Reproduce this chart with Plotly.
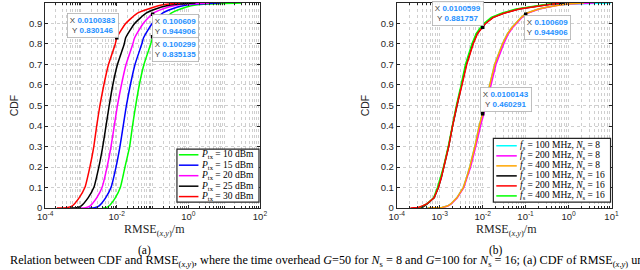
import numpy as np
import plotly.graph_objects as go

W, H = 640, 270

# ---------------- Panel (a): CDF vs RMSE for several P_tx ----------------
cdf_a = [0.0, 0.002, 0.01, 0.05, 0.1, 0.2, 0.3, 0.4, 0.5, 0.6, 0.7, 0.8, 0.83,
         0.9, 0.95, 0.98, 0.99, 0.995, 1.0]
# log10(RMSE/m)
ptx10_log = [-2.40, -2.30, -2.22, -2.04, -1.90, -1.77, -1.64, -1.56, -1.47, -1.37, -1.24,
             -1.05, -1.00, -0.76, -0.48, -0.05, 0.20, 0.55, 1.50]
ptx15_log = [-2.77, -2.62, -2.50, -2.31, -2.16, -2.02, -1.91, -1.82, -1.73, -1.62, -1.49,
             -1.30, -1.25, -1.01, -0.72, -0.30, -0.05, 0.25, 0.90]
ptx20_log = [-3.04, -2.87, -2.75, -2.56, -2.41, -2.27, -2.16, -2.07, -1.98, -1.87, -1.74,
             -1.55, -1.50, -1.26, -0.98, -0.55, -0.30, 0.00, 0.60]
ptx25_log = [-3.30, -3.12, -3.00, -2.80, -2.64, -2.50, -2.39, -2.30, -2.21, -2.11, -1.98,
             -1.79, -1.75, -1.50, -1.18, -0.75, -0.50, -0.25, 0.20]
ptx30_log = [-3.67, -3.40, -3.25, -3.05, -2.89, -2.75, -2.64, -2.56, -2.47, -2.36, -2.23,
             -2.04, -2.00, -1.75, -1.42, -0.95, -0.75, -0.55, -0.20]

names_a = ["10", "15", "20", "25", "30"]
colors_a = ["#00ff00", "#0000ff", "#ff00ff", "#000000", "#ff0000"]
series_a = [ptx10_log, ptx15_log, ptx20_log, ptx25_log, ptx30_log]

tips_a_x = [0.0100383, 0.100609, 0.100299]
tips_a_y = [0.830146, 0.944906, 0.835135]

# ---------------- Panel (b): CDF vs RMSE for f_s / N_s ----------------
cdf_b = [0.0, 0.003, 0.01, 0.02, 0.05, 0.1, 0.15, 0.2, 0.3, 0.4, 0.5, 0.6, 0.7, 0.8,
         0.85, 0.88, 0.9, 0.93, 0.95, 0.97, 0.98, 0.99, 0.995, 1.0]
f100_n8_log = [-3.30, -2.95, -2.82, -2.74, -2.60, -2.45, -2.37, -2.30, -2.18, -2.08, -1.95,
               -1.84, -1.72, -1.54, -1.42, -1.32, -1.24, -1.10, -0.98, -0.70, -0.48, -0.25,
               0.05, 0.98]
f200_n8_log = [-3.25, -2.93, -2.81, -2.73, -2.59, -2.44, -2.36, -2.28, -2.16, -2.05, -1.92,
               -1.81, -1.69, -1.51, -1.40, -1.30, -1.22, -1.08, -0.96, -0.68, -0.46, -0.22,
               0.00, 0.59]
f400_n8_log = [-3.28, -2.95, -2.82, -2.74, -2.60, -2.45, -2.37, -2.30, -2.18, -2.08, -1.95,
               -1.84, -1.72, -1.54, -1.42, -1.32, -1.24, -1.10, -0.98, -0.70, -0.48, -0.25,
               -0.05, 0.36]
f100_n16_log = [-3.45, -3.40, -3.36, -3.29, -3.13, -3.03, -2.96, -2.90, -2.79, -2.70, -2.60,
                -2.49, -2.38, -2.23, -2.13, -2.02, -1.94, -1.76, -1.52, -1.16, -0.86, -0.60,
                -0.40, -0.10]
f200_n16_log = [-3.68, -3.50, -3.40, -3.30, -3.13, -3.03, -2.96, -2.90, -2.79, -2.70, -2.60,
                -2.48, -2.37, -2.22, -2.12, -2.01, -1.93, -1.75, -1.50, -1.15, -0.85, -0.60,
                -0.40, -0.20]
f400_n16_log = [-3.62, -3.48, -3.39, -3.30, -3.14, -3.05, -2.98, -2.91, -2.80, -2.71, -2.61,
                -2.50, -2.40, -2.25, -2.15, -2.05, -1.97, -1.80, -1.56, -1.22, -0.92, -0.65,
                -0.45, -0.30]

labels_b = [("100", "8"), ("200", "8"), ("400", "8"), ("100", "16"), ("200", "16"), ("400", "16")]
colors_b = ["#00ffff", "#ff00ff", "#ffa500", "#000000", "#ff0000", "#00ff00"]
series_b = [f100_n8_log, f200_n8_log, f400_n8_log, f100_n16_log, f200_n16_log, f400_n16_log]
draw_order_b = [0, 1, 2, 3, 5, 4]

tips_b_x = [0.0100599, 0.100609, 0.0100143]
tips_b_y = [0.881757, 0.944906, 0.460291]

# ---------------- figure ----------------
fig = go.Figure()
for s, c in zip(series_a, colors_a):
    fig.add_trace(go.Scatter(x=np.power(10.0, s), y=cdf_a, mode="lines",
                             line=dict(color=c, width=1.5, shape="spline", smoothing=0.5),
                             xaxis="x", yaxis="y", showlegend=False, hoverinfo="skip"))
for i in draw_order_b:
    fig.add_trace(go.Scatter(x=np.power(10.0, series_b[i]), y=cdf_b, mode="lines",
                             line=dict(color=colors_b[i], width=1.5),
                             xaxis="x2", yaxis="y2", showlegend=False, hoverinfo="skip"))
fig.add_trace(go.Scatter(x=tips_a_x, y=tips_a_y, mode="markers", xaxis="x", yaxis="y",
                         marker=dict(color="black", size=3.5, symbol="square"),
                         showlegend=False, hoverinfo="skip"))
fig.add_trace(go.Scatter(x=tips_b_x, y=tips_b_y, mode="markers", xaxis="x2", yaxis="y2",
                         marker=dict(color="black", size=3.5, symbol="square"),
                         showlegend=False, hoverinfo="skip"))


def px(x):
    return x / W


def py(y):
    return 1 - y / H


ax_l, ax_r = 38, 258
bx_l, bx_r = 398, 618
top, bot = 3, 212

grid_col = "#cfcfcf"
tickfont = dict(family="Liberation Sans, Arial", size=9.5, color="#262626")


def minor_vals(k0, k1, majors):
    vals = []
    for k in range(k0, k1):
        for m in range(1, 10):
            v = m * 10.0 ** k
            if m == 1 and v in majors:
                continue
            vals.append(v)
    return vals


maj_a = [1e-4, 1e-2, 1e0, 1e2]
maj_b = [1e-4, 1e-3, 1e-2, 1e-1, 1e0, 1e1]


def xaxis_dict(dom, rng, majors, texts, k0, k1):
    return dict(domain=dom, type="log", range=rng, tickmode="array", tickvals=majors,
                ticktext=texts, ticks="inside", ticklen=3, tickcolor="#262626",
                showline=True, linecolor="#262626", linewidth=0.8, mirror="ticks",
                showgrid=True, gridcolor=grid_col, griddash="dot", gridwidth=0.8,
                tickfont=tickfont, zeroline=False,
                minor=dict(tickmode="array", tickvals=minor_vals(k0, k1, majors),
                           ticks="inside", ticklen=2, tickcolor="#262626",
                           showgrid=True, gridcolor=grid_col, griddash="dot", gridwidth=0.8))


def yaxis_dict(dom, anchor):
    return dict(domain=dom, range=[0, 1], tickmode="array",
                tickvals=[i / 10 for i in range(11)],
                ticktext=["0"] + ["0.%d" % i for i in range(1, 10)] + ["1"],
                ticks="inside", ticklen=3, tickcolor="#262626", showline=True,
                linecolor="#262626", linewidth=0.8, mirror="ticks", showgrid=True,
                gridcolor=grid_col, griddash="dot", gridwidth=0.8, tickfont=tickfont,
                zeroline=False, anchor=anchor,
                title=dict(text="CDF", font=dict(family="Liberation Sans, Arial", size=10.5,
                                                  color="#262626"), standoff=8))


ydom = [py(bot), py(top)]
fig.update_layout(
    width=W, height=H, margin=dict(l=0, r=0, t=0, b=0),
    paper_bgcolor="white", plot_bgcolor="white",
    xaxis=xaxis_dict([px(ax_l), px(ax_r)], [-4, 2], maj_a,
                     ["10<sup>-4</sup>", "10<sup>-2</sup>", "10<sup>0</sup>", "10<sup>2</sup>"],
                     -4, 2),
    yaxis=yaxis_dict(ydom, "x"),
    xaxis2=xaxis_dict([px(bx_l), px(bx_r)], [-4, 1], maj_b,
                      ["10<sup>-4</sup>", "10<sup>-3</sup>", "10<sup>-2</sup>", "10<sup>-1</sup>",
                       "10<sup>0</sup>", "10<sup>1</sup>"], -4, 1),
    yaxis2=yaxis_dict(ydom, "x2"),
)
fig.layout.xaxis2.anchor = "y2"
fig.layout.xaxis.anchor = "y"

shapes = []
ann = []
serif = "Liberation Serif, Times New Roman, serif"


def add_text(x, y, text, font, xanchor="center", **kw):
    ann.append(dict(x=px(x), y=py(y), xref="paper", yref="paper", showarrow=False,
                    xanchor=xanchor, yanchor="middle", text=text, font=font, **kw))


# x-axis titles and panel labels
for cx, lab in [((ax_l + ax_r) / 2, "(a)"), ((bx_l + bx_r) / 2, "(b)")]:
    add_text(cx + 2, 234, "RMSE<sub>(<i>x</i>,<i>y</i>)</sub>/m",
             dict(family=serif, size=12, color="#262626"))
    add_text(cx - 8, 255, lab, dict(family=serif, size=11.5, color="black"))

# caption (cropped at the right edge like the reference)
add_text(0, 265.5,
         "Relation between CDF and RMSE<sub>(<i>x</i>,<i>y</i>)</sub>, where the time overhead "
         "<i>G</i>=50 for <i>N</i><sub>s</sub> = 8 and <i>G</i>=100 for "
         "<i>N</i><sub>s</sub> = 16; (a) CDF of RMSE<sub>(<i>x</i>,<i>y</i>)</sub> under",
         dict(family=serif, size=12.2, color="black"), xanchor="left")


# legends (drawn manually to match compact MATLAB legend)
def legend(x0, x1, y0, y1, rows, colors, texts, lx0, lx1, tx):
    shapes.append(dict(type="rect", xref="paper", yref="paper", x0=px(x0), x1=px(x1),
                       y0=py(y1), y1=py(y0), fillcolor="white",
                       line=dict(color="#262626", width=1.2), layer="above"))
    for r, c, t in zip(rows, colors, texts):
        shapes.append(dict(type="line", xref="paper", yref="paper", x0=px(lx0), x1=px(lx1),
                           y0=py(r), y1=py(r), line=dict(color=c, width=1.5), layer="above"))
        add_text(tx, r, t, dict(family=serif, size=9.5, color="black"), xanchor="left")


legend(173, 257, 152, 206, [157.7, 168.3, 179.0, 189.7, 200.3], colors_a,
       ["<i>P</i><sub>tx</sub> = %s dBm" % n for n in names_a], 175, 195, 196)
legend(497, 617, 141, 206, [148.5, 158.8, 169.0, 179.2, 189.4, 199.6], colors_b,
       ["<i>f</i><sub>s</sub> = %s MHz, <i>N</i><sub>s</sub> = %s" % lb for lb in labels_b],
       500, 521, 522)


# data tips
def tip(cx, cy, xv, yv):
    txt = ("<span style='color:#404040'>X</span> <span style='color:#1e90ff'><b>%s</b></span><br>"
           "<span style='color:#404040'>Y</span> <span style='color:#1e90ff'><b>%s</b></span>"
           % (xv, yv))
    add_text(cx, cy, txt, dict(family="Liberation Sans, Arial", size=8),
             bgcolor="rgba(255,255,255,0.95)", bordercolor="#b0b0b0",
             borderwidth=0.8, borderpad=2)


tip_pos_a = [(87.5, 25.5), (171.5, 27.5), (171.5, 50)]
tip_pos_b = [(461, 13.5), (552.5, 28), (509.5, 101.5)]
tip_txt_a = [("0.0100383", "0.830146"), ("0.100609", "0.944906"), ("0.100299", "0.835135")]
tip_txt_b = [("0.0100599", "0.881757"), ("0.100609", "0.944906"), ("0.0100143", "0.460291")]
for (cx, cy), (a, b) in zip(tip_pos_a + tip_pos_b, tip_txt_a + tip_txt_b):
    tip(cx, cy, a, b)

fig.update_layout(shapes=shapes, annotations=ann)
# remove the browser's default 8 px page margin so the figure sits at the window origin
fig.write_html("out.html", config={"displayModeBar": False},
               post_script="document.body.style.margin='0px';")
